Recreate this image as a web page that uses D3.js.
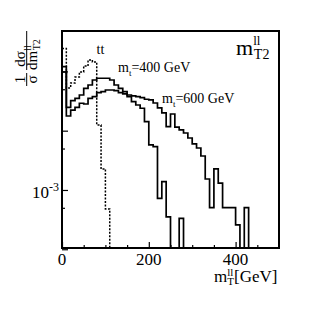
<!DOCTYPE html>
<html>
<head>
<meta charset="utf-8">
<script src="https://cdn.jsdelivr.net/npm/d3@7/dist/d3.min.js"></script>
<style>
  body { margin: 0; background: #fff; }
  svg { display: block; }
  text { font-family: "Liberation Serif", "Times New Roman", serif; fill: #000; }
</style>
</head>
<body>
<svg id="chart" width="310" height="311"></svg>
<script>
// 10 GeV bins starting at 0 GeV, values of 1/sigma dsigma/dm
const binWidth = 10;
const ttbar = [0.243, 0.0525, 0.0637, 0.0805, 0.0977, 0.123, 0.156, 0.144, 0.0125, 0.00226,
  0.000478];
const mt400 = [0.120, 0.0248, 0.0321, 0.0352, 0.0400, 0.0519, 0.0590, 0.0716, 0.0766, 0.0766,
  0.0766, 0.0716, 0.0590, 0.0519, 0.0455, 0.0374, 0.0308, 0.0271, 0.0239, 0.0142,
  0.00574, 0.00537, 0.000724, 0.00138, 0.000351, 0, 0, 0.000333];
const mt600 = [0.0977, 0.0177, 0.0223, 0.0248, 0.0290, 0.0282, 0.0352, 0.0374, 0.0438, 0.0455,
  0.0485, 0.0485, 0.0473, 0.0438, 0.0416, 0.0400, 0.0385, 0.0374, 0.0360, 0.0339,
  0.0330, 0.0293, 0.0242, 0.0199, 0.0117, 0.0191, 0.0115, 0.0103, 0.00914, 0.00753,
  0.00597, 0.00510, 0.00374, 0.00153, 0.000503, 0.00226, 0.00130, 0.000503, 0.000503, 0.000503,
  0.000257, 0, 0.000503];

const xMajorTicks = [0, 200, 400];
const xMinorTicks = [50, 100, 150, 250, 300, 350, 450];
const xTickLabels = ['0', '200', '400'];
const yMajorTicks = [1e-4, 1e-3, 1e-2, 1e-1];
const yMinorTicks = [5e-4, 5e-3, 5e-2];

const svg = d3.select('#chart');
const x = d3.scaleLinear().domain([0, 500]).range([62, 279]);
const y = d3.scaleLog().domain([1.05e-4, 0.48]).range([248, 31]);
const yFloor = y.domain()[0];

svg.append('rect').attr('width', 310).attr('height', 311).attr('fill', '#fff');

svg.append('clipPath').attr('id', 'plot-clip')
  .append('rect').attr('x', 62).attr('y', 31).attr('width', 217).attr('height', 217);

// histogram outline: flat top per bin, joined by vertical edges
function histPoints(values) {
  const pts = [[0, yFloor]];
  values.forEach(function (v, i) {
    pts.push([i * binWidth, v]);
    pts.push([(i + 1) * binWidth, v]);
  });
  pts.push([values.length * binWidth, yFloor]);
  return pts;
}

const line = d3.line()
  .x(d => x(d[0]))
  .y(d => y(Math.max(d[1], yFloor)));

const plot = svg.append('g').attr('clip-path', 'url(#plot-clip)');

plot.append('path')
  .attr('d', line(histPoints(ttbar)))
  .attr('fill', 'none')
  .attr('stroke', '#000')
  .attr('stroke-width', 1.5)
  .attr('stroke-dasharray', '2,1.5');

[mt400, mt600].forEach(function (series) {
  plot.append('path')
    .attr('d', line(histPoints(series)))
    .attr('fill', 'none')
    .attr('stroke', '#000')
    .attr('stroke-width', 1.7)
    .attr('stroke-linejoin', 'miter');
});

// ticks (pointing into the frame)
function tickAxis(axis, transform) {
  const g = svg.append('g').attr('transform', transform).call(axis);
  g.select('.domain').remove();
  g.selectAll('.tick line').attr('stroke', '#000').attr('stroke-width', 1.2);
  g.selectAll('.tick text').remove();
}
tickAxis(d3.axisBottom(x).tickValues(xMajorTicks).tickSize(-6), 'translate(0,248)');
tickAxis(d3.axisBottom(x).tickValues(xMinorTicks).tickSize(-3), 'translate(0,248)');
tickAxis(d3.axisLeft(y).tickValues(yMajorTicks).tickSize(-6), 'translate(62,0)');
tickAxis(d3.axisLeft(y).tickValues(yMinorTicks).tickSize(-3), 'translate(62,0)');

// frame
svg.append('rect')
  .attr('x', 62).attr('y', 31).attr('width', 217).attr('height', 217)
  .attr('fill', 'none').attr('stroke', '#000').attr('stroke-width', 2);

// tick labels
svg.selectAll('.xlabel')
  .data(xMajorTicks)
  .enter().append('text')
  .attr('class', 'xlabel')
  .attr('x', d => x(d))
  .attr('y', 265)
  .attr('text-anchor', 'middle')
  .attr('font-size', 17)
  .text((d, i) => xTickLabels[i]);

const yLab = svg.append('text')
  .attr('x', 59).attr('y', y(1e-3) + 8)
  .attr('text-anchor', 'end')
  .attr('font-size', 17);
yLab.append('tspan').text('10');
yLab.append('tspan').attr('dy', -7).attr('font-size', 12).text('-3');

// x title
const xTitle = svg.append('text').attr('x', 214).attr('y', 282).attr('font-size', 17);
xTitle.append('tspan').text('m');
xTitle.append('tspan').attr('dy', -6).attr('font-size', 11).text('ll');
xTitle.append('tspan').attr('dx', -6).attr('dy', 9).attr('font-size', 11).text('T');
xTitle.append('tspan').attr('dy', -3).text('[GeV]');

// y title (rotated fractions)
const yTitle = svg.append('g').attr('transform', 'translate(26.7,0) rotate(-90)');
yTitle.append('text').attr('x', -79.5).attr('y', -2)
  .attr('text-anchor', 'middle').attr('font-size', 15).text('1');
yTitle.append('text').attr('x', -79.5).attr('y', 10.5)
  .attr('text-anchor', 'middle').attr('font-size', 15).text('σ');
yTitle.append('line').attr('x1', -86).attr('x2', -73)
  .attr('stroke', '#000').attr('stroke-width', 1);
yTitle.append('text').attr('x', -59).attr('y', -2)
  .attr('text-anchor', 'middle').attr('font-size', 15).text('dσ');
const den = yTitle.append('text').attr('x', -70).attr('y', 10.5).attr('font-size', 15);
den.append('tspan').text('dm');
den.append('tspan').attr('dy', -6).attr('font-size', 10).text('ll');
den.append('tspan').attr('dx', -5).attr('dy', 9).attr('font-size', 10).text('T2');
yTitle.append('line').attr('x1', -70).attr('x2', -31)
  .attr('stroke', '#000').attr('stroke-width', 1);

// in-plot labels
svg.append('text').attr('x', 96.5).attr('y', 53.5).attr('font-size', 14).text('tt');

function massLabel(xp, yp, mass) {
  const t = svg.append('text').attr('x', xp).attr('y', yp).attr('font-size', 14);
  t.append('tspan').text('m');
  t.append('tspan').attr('dy', 4).attr('font-size', 9).text('t');
  t.append('tspan').attr('dy', -4).text('=' + mass + ' GeV');
}
massLabel(118, 71.5, 400);
massLabel(162, 103, 600);

const corner = svg.append('text').attr('x', 236).attr('y', 55).attr('font-size', 22);
corner.append('tspan').text('m');
corner.append('tspan').attr('dy', -10).attr('font-size', 13).text('ll');
corner.append('tspan').attr('dx', -6.5).attr('dy', 14).attr('font-size', 14).text('T2');
</script>
</body>
</html>
